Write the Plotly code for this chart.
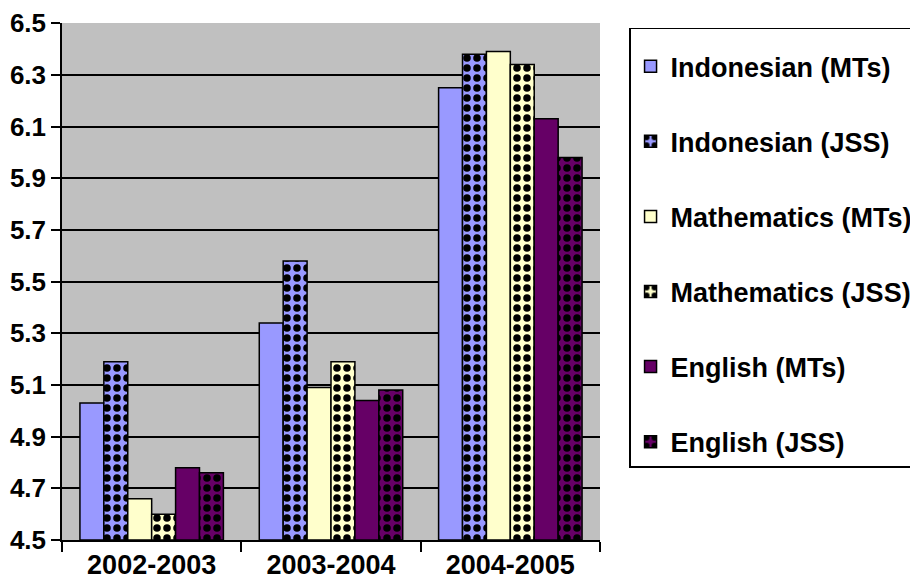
import plotly.graph_objects as go

years = ["2002-2003", "2003-2004", "2004-2005"]
series_names = ["Indonesian (MTs)", "Indonesian (JSS)", "Mathematics (MTs)",
                "Mathematics (JSS)", "English (MTs)", "English (JSS)"]
indonesian_mts = [5.03, 5.34, 6.25]
indonesian_jss = [5.19, 5.58, 6.38]
mathematics_mts = [4.66, 5.09, 6.39]
mathematics_jss = [4.60, 5.19, 6.34]
english_mts = [4.78, 5.04, 6.13]
english_jss = [4.76, 5.08, 5.98]
y_ticks = [4.5, 4.7, 4.9, 5.1, 5.3, 5.5, 5.7, 5.9, 6.1, 6.3, 6.5]

values = [indonesian_mts, indonesian_jss, mathematics_mts,
          mathematics_jss, english_mts, english_jss]
colors = ["#9999FF", "#9999FF", "#FFFFCC", "#FFFFCC", "#660066", "#660066"]
checker = [False, True, False, True, False, True]

FONT = "Liberation Sans, Arial, sans-serif"

fig = go.Figure()
for i, (name, vals) in enumerate(zip(series_names, values)):
    if checker[i]:
        pattern = dict(shape=".", fgcolor="black", bgcolor=colors[i],
                       size=10, solidity=0.45, fillmode="replace")
    else:
        pattern = dict(shape="")
    fig.add_trace(go.Bar(
        x=years, y=[v - 4.5 for v in vals], base=4.5, name=name,
        legendgroup=name,
        marker=dict(color=colors[i], line=dict(color="black", width=1.5),
                    pattern=pattern),
    ))

# page body has an 8px margin, so the figure is drawn 8px smaller
fig.update_layout(
    width=910, height=576,
    paper_bgcolor="white", plot_bgcolor="#C0C0C0",
    margin=dict(l=54, r=318, t=15, b=44, autoexpand=False),
    barmode="group", bargap=0.2, bargroupgap=0,
    font=dict(family=FONT, size=26, color="black"),
    showlegend=True,
    legend=dict(x=1.054, y=0.991, xanchor="left", yanchor="top",
                bgcolor="white", bordercolor="black", borderwidth=1.5,
                font=dict(family=FONT, size=27, color="black", weight="bold"),
                title=dict(text=" ", font=dict(size=10)),
                tracegroupgap=37, traceorder="grouped"),
    xaxis=dict(showline=True, linecolor="black", linewidth=1.5,
               ticks="outside", tickson="boundaries", ticklen=10,
               tickcolor="black", tickwidth=1.5,
               tickfont=dict(family=FONT, size=27, weight="bold")),
    yaxis=dict(range=[4.5, 6.5005], tickvals=y_ticks, tickformat=".1f",
               showline=True, linecolor="black", linewidth=1.5,
               ticks="outside", ticklen=9, tickcolor="black", tickwidth=1.5,
               showgrid=True, gridcolor="black", gridwidth=1.5,
               ticklabeloverflow="allow",
               tickfont=dict(family=FONT, size=26, weight="bold")),
)

fig.write_html("out.html")
